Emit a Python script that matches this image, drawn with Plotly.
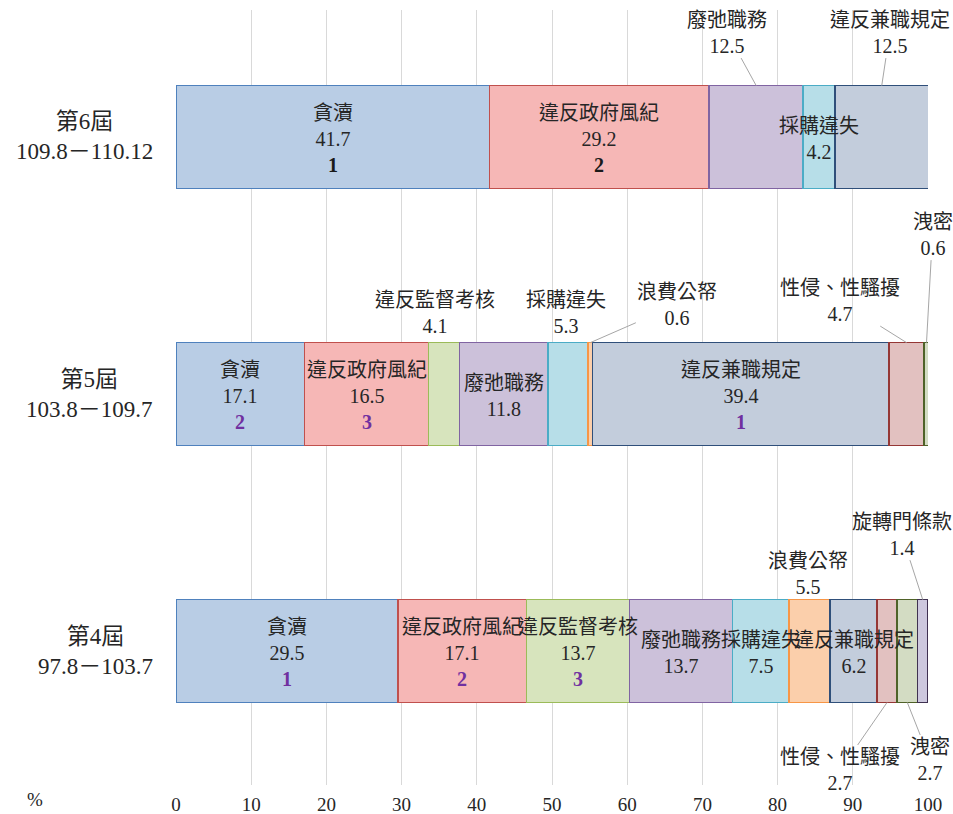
import plotly.graph_objects as go

# ---------------- data ----------------
rows = ["第4屆", "第5屆", "第6屆"]
row_periods = ["97.8－103.7", "103.8－109.7", "109.8－110.12"]
series = ["貪瀆", "違反政府風紀", "違反監督考核", "廢弛職務", "採購違失",
          "浪費公帑", "違反兼職規定", "性侵、性騷擾", "洩密", "旋轉門條款"]
v_tanzhu = [29.5, 17.1, 41.7]
v_fengji = [17.1, 16.5, 29.2]
v_jiandu = [13.7, 4.1, None]
v_feichi = [13.7, 11.8, 12.5]
v_caigou = [7.5, 5.3, 4.2]
v_langfei = [5.5, 0.6, None]
v_jianzhi = [6.2, 39.4, 12.5]
v_xingqin = [2.7, 4.7, None]
v_xiemi = [2.7, 0.6, None]
v_xuanzhuan = [1.4, None, None]
values = [v_tanzhu, v_fengji, v_jiandu, v_feichi, v_caigou,
          v_langfei, v_jianzhi, v_xingqin, v_xiemi, v_xuanzhuan]
# rank of the top three per row (series index -> rank)
ranks = [
    {0: 1, 1: 2, 2: 3},
    {6: 1, 0: 2, 1: 3},
    {0: 1, 1: 2},
]
x_ticks = [0, 10, 20, 30, 40, 50, 60, 70, 80, 90, 100]

# ---------------- styles ----------------
fills = ["#b9cde5", "#f6b7b6", "#d7e4bd", "#ccc1da", "#b7dee8",
         "#fbcfab", "#c3cddc", "#e2c1c0", "#d3dcc3", "#cdc8de"]
borders = ["#4f81bd", "#c0504d", "#9bbb59", "#8064a2", "#4bacc6",
           "#f79646", "#2f4f7a", "#953735", "#4f6228", "#3f3151"]
rank_colors = ["#7030a0", "#7030a0", "#1a1a1a"]
FONT = "Liberation Serif, 'Noto Sans CJK TC', serif"
FS = 20
# outside label placement: (series, row) -> (ax, ay, edge, draw_line)
outside = {
    (3, 2): (-29, -53, 0.2, True),
    (6, 2): (8, -53, 0.2, True),
    (2, 1): (-9, -30, 0.2, False),
    (4, 1): (-2, -30, 0.2, False),
    (5, 1): (87, -38, 0.2, True),
    (7, 1): (-67, -42, 0.2, True),
    (8, 1): (6, -108, 0.2, True),
    (5, 0): (-2, -26, 0.2, False),
    (7, 0): (-47, 68, -0.2, True),
    (8, 0): (23, 58, -0.2, True),
    (9, 0): (-21, -65, 0.2, True),
}

fig = go.Figure()
for si, name in enumerate(series):
    fig.add_trace(go.Bar(
        y=list(range(len(rows))), x=values[si], name=name, orientation="h",
        marker=dict(color=fills[si], line=dict(color=borders[si], width=1.5)),
        hoverinfo="x+name",
    ))

annotations = []
for ri in range(len(rows)):
    cum = 0.0
    for si, name in enumerate(series):
        v = values[si][ri]
        if v is None:
            continue
        center = cum + v / 2
        cum += v
        text = f"{name}<br>{v}"
        if si in ranks[ri]:
            text += (f"<br><span style='color:{rank_colors[ri]}'>"
                     f"<b>{ranks[ri][si]}</b></span>")
        if (si, ri) in outside:
            ax, ay, edge, line = outside[(si, ri)]
            annotations.append(dict(
                x=center, y=ri + edge, xref="x", yref="y", text=text,
                showarrow=True, ax=ax, ay=ay, arrowhead=0, arrowwidth=1,
                arrowcolor="#a6a6a6" if line else "rgba(0,0,0,0)",
                standoff=0, startstandoff=0,
                font=dict(family=FONT, size=FS, color="#262626"),
                align="center"))
        else:
            annotations.append(dict(
                x=center, y=ri, xref="x", yref="y", text=text,
                showarrow=False, align="center", yshift=-2,
                font=dict(family=FONT, size=FS, color="#262626")))

for ri in range(len(rows)):
    annotations.append(dict(
        x=-0.0279, y=ri, xref="paper", yref="y",
        text=f"{rows[ri]}<br>{row_periods[ri]}", showarrow=False,
        xanchor="right", align="center",
        font=dict(family=FONT, size=23, color="#262626")))
annotations.append(dict(
    x=-0.1875, y=-0.019, xref="paper", yref="paper", text="%",
    showarrow=False, xanchor="center", yanchor="middle",
    font=dict(family=FONT, size=FS - 1, color="#262626")))

fig.update_layout(
    barmode="stack", bargap=0.6, showlegend=False,
    width=953, height=814,
    margin=dict(l=176, r=25, t=10, b=29),
    plot_bgcolor="white", paper_bgcolor="white",
    font=dict(family=FONT, size=FS, color="#262626"),
    annotations=annotations,
    xaxis=dict(range=[0, 100], tickvals=x_ticks, showgrid=True,
               gridcolor="#d9d9d9", gridwidth=1, zeroline=False,
               showline=False, ticks="", ticklen=0, ticklabelstandoff=6,
               automargin=False,
               tickfont=dict(family=FONT, size=19, color="#262626")),
    yaxis=dict(range=[-0.521, 2.494], showticklabels=False, showgrid=False,
               zeroline=False, showline=False, ticks="", automargin=False),
)
fig.write_html("out.html", config={"displayModeBar": False},
               post_script="document.body.style.margin='0';")
